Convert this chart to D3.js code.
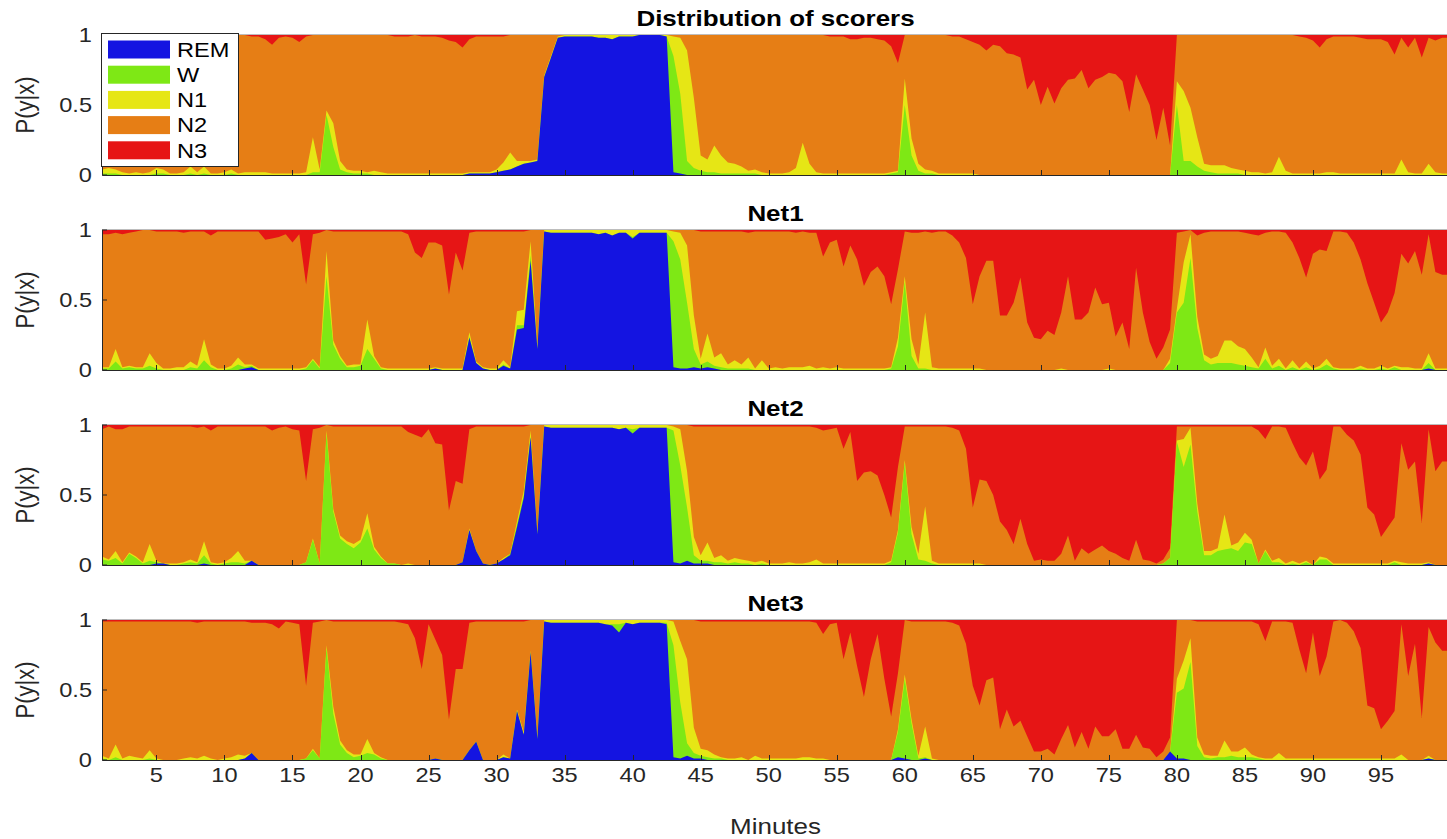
<!DOCTYPE html>
<html>
<head>
<meta charset="utf-8">
<script src="https://cdn.jsdelivr.net/npm/d3@7"></script>
<style>
  body { margin: 0; background: #fff; }
  svg { display: block; }
</style>
</head>
<body>
<script>
// epochs of 30 s, in minutes (1 .. 100)
const minutes = d3.range(2, 201).map(k => k / 2);

const stages = ["REM", "W", "N1", "N2", "N3"];
const stageColors = ["#1414e1", "#7ee815", "#e6e615", "#e67e15", "#e61515"];
const xTicks = [5, 10, 15, 20, 25, 30, 35, 40, 45, 50, 55, 60, 65, 70, 75, 80, 85, 90, 95];
const yTicks = [0, 50, 100];

// probabilities in percent, one value per epoch
const scorersREM = [
  0,0,0,0,0,0,0,0,0,0, 0,0,0,0,0,0,0,0,0,0, 0,0,0,0,0,0,0,0,0,0, 0,0,0,0,0,0,0,0,0,0,
  0,0,0,0,0,0,0,0,0,0, 0,0,0,0,1,1,1,1,2,3, 4,6,8,9,10,70,84,98,99,99, 99,99,99,98,98,97,99,99,99,100,
  100,100,100,99,2,1,0,0,0,0, 0,0,0,0,0,0,0,0,0,0, 0,0,0,0,0,0,0,0,0,0, 0,0,0,0,0,0,0,0,0,0,
  0,0,0,0,0,0,0,0,0,0, 0,0,0,0,0,0,0,0,0,0, 0,0,0,0,0,0,0,0,0,0, 0,0,0,0,0,0,0,0,0,0,
  0,0,0,0,0,0,0,0,0,0, 0,0,0,0,0,0,0,0,0,0, 0,0,0,0,0,0,0,0,0,0, 0,0,0,0,0,0,0,0,0
];
const scorersW = [
  1,1,1,0,0,0,0,0,1,1, 0,0,0,1,0,1,0,0,0,1, 0,0,0,0,0,0,0,0,0,0, 0,2,2,43,20,4,2,1,1,1,
  0,0,0,0,0,0,0,0,0,0, 0,0,0,0,0,0,0,0,0,0, 0,0,0,0,0,0,0,0,0,0, 0,0,0,0,0,0,0,0,0,0,
  0,0,0,0,83,57,10,5,3,2, 2,1,1,1,1,1,1,0,0,0, 0,0,0,0,0,0,0,0,0,0, 0,0,0,0,0,0,1,2,50,14,
  3,1,1,0,0,0,0,0,0,0, 0,0,0,0,0,0,0,0,0,0, 0,0,0,0,0,0,0,0,0,0, 0,0,0,0,0,0,0,0,50,10,
  10,6,3,2,1,1,1,1,0,0, 0,0,0,0,0,0,0,0,0,0, 0,0,0,0,0,0,0,0,0,0, 0,0,0,0,0,0,0,0,0
];
const scorersN1 = [
  3,4,3,2,1,2,1,2,4,3, 1,1,2,5,2,5,1,1,2,3, 1,2,2,2,2,1,1,1,1,1, 2,25,2,3,17,6,2,2,2,1,
  3,2,1,1,1,1,1,1,1,1, 1,1,1,1,1,1,1,1,2,6, 12,4,2,1,1,1,1,1,1,1, 1,1,1,2,2,3,1,1,1,0,
  0,0,0,1,14,40,79,50,11,9, 19,13,8,7,5,2,3,2,1,1, 1,2,5,23,8,2,1,1,1,1, 1,1,1,1,1,1,1,1,19,12,
  5,3,2,1,1,1,1,1,1,0, 0,0,0,0,0,0,0,0,0,0, 0,0,0,0,0,0,0,0,0,0, 0,0,0,0,0,0,0,0,17,50,
  38,21,5,5,6,6,4,3,3,2, 2,1,2,13,3,1,1,1,1,1, 2,2,1,1,1,1,1,1,1,1, 1,11,2,1,1,8,2,1,1
];
const scorersN2 = [
  95,94,96,98,99,97,98,98,95,96, 99,99,98,94,98,93,98,99,98,96, 99,98,97,97,95,92,97,98,97,94, 97,73,96,54,63,90,96,97,97,98,
  97,98,99,98,98,98,99,98,98,98, 97,95,94,90,95,97,97,97,95,90, 84,90,90,90,89,29,15,1,0,0, 0,0,0,0,0,0,0,0,0,0,
  0,0,0,0,1,2,11,45,86,89, 79,86,91,92,94,97,96,98,99,99, 99,98,95,77,92,98,99,98,98,98, 96,96,97,97,96,95,90,77,31,74,
  92,96,97,99,99,98,98,96,94,93, 89,93,92,87,86,84,61,68,50,63, 51,62,68,69,75,62,68,70,73,72, 67,45,72,61,50,25,48,21,33,40,
  52,73,92,93,93,93,95,96,97,98, 98,99,98,87,97,99,98,97,95,90, 95,97,98,98,98,97,96,96,96,94, 85,87,89,97,83,90,94,97,97
];
const scorersN3 = [
  1,1,0,0,0,1,1,0,0,0, 0,0,0,0,0,1,1,0,0,0, 0,0,1,1,3,7,2,1,2,5, 1,0,0,0,0,0,0,0,0,0,
  0,0,0,1,1,1,0,1,1,1, 2,4,5,9,3,1,1,1,1,1, 0,0,0,0,0,0,0,0,0,0, 0,0,0,0,0,0,0,0,0,0,
  0,0,0,0,0,0,0,0,0,0, 0,0,0,0,0,0,0,0,0,0, 0,0,0,0,0,0,0,1,1,1, 3,3,2,2,3,4,8,20,0,0,
  0,0,0,0,0,1,1,3,5,7, 11,7,8,13,14,16,39,32,50,37, 49,38,32,31,25,38,32,30,27,28, 33,55,28,39,50,75,52,79,0,0,
  0,0,0,0,0,0,0,0,0,0, 0,0,0,0,0,0,1,2,4,9, 3,1,1,1,1,2,3,3,3,5, 14,2,9,2,16,2,4,2,2
];

const net1REM = [
  0,0,0,0,0,0,0,0,0,0, 0,0,0,0,0,0,0,0,0,0, 0,1,2,0,0,0,0,0,0,0, 0,0,0,0,0,0,0,0,0,0,
  0,0,0,0,0,0,0,0,0,1, 0,0,0,0,23,5,1,0,0,3, 1,29,30,78,15,99,98,98,98,98, 98,98,98,97,98,96,98,98,94,98,
  98,98,98,98,2,1,1,2,1,2, 1,0,0,0,0,0,0,0,0,0, 0,0,0,0,0,0,0,0,0,0, 0,0,0,0,0,0,0,0,0,0,
  0,0,0,0,0,0,0,0,0,0, 0,0,0,0,0,0,0,0,0,0, 0,0,0,0,0,0,0,0,0,0, 0,0,0,0,0,0,0,0,0,0,
  0,0,0,0,0,0,0,0,0,0, 0,0,0,0,0,0,0,0,0,0, 0,0,0,0,0,0,0,0,0,0, 0,0,0,0,0,1,0,0,0
];
const net1W = [
  1,1,6,1,2,1,1,3,1,0, 0,0,0,2,1,7,2,0,0,1, 4,1,1,0,0,0,0,0,0,0, 1,7,1,67,18,8,2,2,3,15,
  8,1,0,0,0,0,0,0,0,0, 0,0,0,0,1,0,0,0,0,1, 0,3,2,4,0,0,0,0,0,0, 0,0,0,0,0,0,0,0,1,0,
  0,0,0,0,90,78,47,13,3,4, 2,2,1,1,1,1,0,0,0,0, 0,0,0,0,0,0,0,0,0,0, 0,0,0,0,0,0,1,17,63,10,
  1,1,0,0,0,0,0,0,0,0, 0,0,0,0,0,0,0,0,0,0, 0,0,0,0,0,0,0,0,0,0, 0,0,0,0,0,0,0,5,41,48,
  80,30,7,4,5,5,5,4,3,2, 1,8,1,3,0,2,0,2,0,1, 4,1,0,0,0,1,0,0,1,0, 2,0,0,0,0,4,0,0,0
];
const net1N1 = [
  1,1,9,1,1,1,1,9,4,1, 1,2,2,4,2,15,2,1,1,2, 5,2,1,1,1,1,1,1,1,1, 1,1,1,18,3,2,1,2,1,21,
  2,1,1,1,1,1,1,1,1,1, 1,1,1,1,3,1,1,1,1,3, 1,10,11,10,2,1,2,2,2,2, 2,2,2,3,2,4,2,2,5,2,
  2,2,2,2,7,19,41,24,4,20, 6,10,3,6,3,8,1,7,1,2, 1,2,2,2,3,1,2,1,2,1, 1,1,1,1,1,1,1,6,4,12,
  3,40,2,1,1,1,1,1,1,1, 0,0,0,0,0,0,0,0,0,0, 0,1,0,0,0,0,0,0,1,0, 0,0,0,0,0,0,0,3,3,29,
  17,8,4,4,5,16,16,13,12,7, 1,8,2,5,1,5,1,4,1,2, 4,1,1,1,1,2,1,1,2,1, 1,2,2,1,1,7,1,1,1
];
const net1N2 = [
  95,95,83,95,95,97,98,88,94,98, 98,97,96,93,96,77,92,98,98,96, 90,95,95,98,92,93,94,96,90,96, 59,89,96,15,78,89,96,95,95,63,
  89,97,98,98,98,96,83,79,90,89, 88,53,83,70,71,93,97,98,98,92, 97,57,56,8,83,0,0,0,0,0, 0,0,0,0,0,0,0,0,0,0,
  0,0,0,0,1,2,11,61,91,73, 90,87,95,92,95,89,98,92,98,97, 98,97,96,97,95,97,79,90,91,73, 88,78,59,69,73,66,45,49,32,76,
  94,58,96,98,98,95,90,79,46,66, 78,78,39,39,48,66,34,23,22,28, 25,40,67,36,36,41,59,47,47,24, 34,15,73,41,20,8,16,21,54,22,
  3,58,87,91,89,78,78,82,83,88, 94,82,96,91,97,84,79,60,82,83, 77,97,98,97,90,76,61,47,31,40, 52,81,74,84,67,85,69,67,67
];
const net1N3 = [
  3,3,2,3,2,1,0,0,1,1, 1,1,2,1,1,1,4,1,1,1, 1,1,1,1,7,6,5,3,9,3, 39,3,2,0,1,1,1,1,1,1,
  1,1,1,1,1,3,16,20,9,9, 11,46,16,29,2,1,1,1,1,1, 1,1,1,0,0,0,0,0,0,0, 0,0,0,0,0,0,0,0,0,0,
  0,0,0,0,0,0,0,0,1,1, 1,1,1,1,1,2,1,1,1,1, 1,1,2,1,2,2,19,9,7,26, 11,21,40,30,26,33,53,28,1,2,
  2,1,2,1,1,4,9,20,53,33, 22,22,61,61,52,34,66,77,78,72, 75,59,33,64,64,59,41,53,52,76, 66,85,27,59,80,92,84,71,2,1,
  0,4,2,1,1,1,1,1,2,3, 4,2,1,1,2,9,20,34,17,14, 15,1,1,2,9,21,38,52,66,59, 45,17,24,15,32,3,30,32,32
];

const net2REM = [
  0,0,0,0,0,0,0,0,1,1, 0,0,0,0,0,1,0,0,0,0, 0,0,3,0,0,0,0,0,0,0, 0,0,0,0,0,0,0,0,0,0,
  0,0,0,0,0,0,0,0,0,0, 0,0,0,2,25,10,1,0,1,4, 7,27,48,91,22,99,98,98,98,98, 98,98,98,98,98,98,97,98,94,98,
  98,98,98,98,2,1,3,1,1,1, 0,0,0,0,0,0,0,0,0,0, 0,0,0,0,0,0,0,0,0,0, 0,0,0,0,0,0,0,0,0,0,
  0,0,0,0,0,0,0,0,0,0, 0,0,0,0,0,0,0,0,0,0, 0,0,0,0,0,0,0,0,0,0, 0,0,0,0,0,0,0,0,0,0,
  0,0,0,0,0,0,0,0,0,0, 0,0,0,0,0,0,0,0,0,0, 0,0,0,0,0,0,0,0,0,0, 0,0,0,0,0,1,0,0,0
];
const net2W = [
  4,3,5,1,8,5,1,3,1,0, 0,0,1,2,1,6,1,0,1,2, 2,1,0,0,0,0,0,0,0,0, 2,18,1,94,38,19,15,12,16,26,
  11,5,1,1,0,0,0,0,0,0, 0,0,0,0,0,0,0,0,0,0, 1,2,2,1,0,0,0,0,0,0, 0,0,0,0,0,0,0,0,3,0,
  0,0,0,0,94,70,38,6,2,2, 2,2,1,2,1,1,0,1,0,0, 0,0,0,0,0,0,0,0,0,0, 0,0,0,0,0,0,2,23,73,22,
  4,3,1,0,0,0,0,0,0,0, 0,0,0,0,0,0,0,0,0,0, 0,0,0,0,0,0,0,0,0,0, 0,0,0,0,0,0,1,5,88,70,
  86,38,7,7,10,11,12,10,16,15, 1,10,2,2,0,1,0,2,0,4, 4,0,0,0,0,0,0,0,0,0, 2,0,0,0,0,0,0,0,0
];
const net2N1 = [
  2,1,5,1,1,1,1,12,1,0, 1,1,1,2,1,10,1,1,1,3, 8,2,0,0,0,0,0,0,0,0, 0,1,0,2,2,2,2,3,2,11,
  2,1,0,0,0,1,0,0,0,0, 0,0,0,0,1,0,0,0,0,1, 0,2,3,4,1,1,2,2,2,2, 2,2,2,2,2,2,3,2,3,2,
  2,2,2,2,3,26,26,13,4,13, 3,5,2,3,3,2,2,2,1,1, 1,2,1,1,2,4,1,1,1,1, 1,1,1,1,1,1,1,2,2,5,
  4,39,2,1,1,1,1,1,1,1, 0,0,0,0,0,0,0,0,0,0, 0,0,0,0,0,0,0,0,0,0, 0,0,0,0,0,0,0,0,1,20,
  12,6,3,3,2,25,2,6,7,3, 0,1,1,3,1,2,1,1,0,2, 1,1,1,1,1,1,1,1,1,1, 1,2,1,1,1,1,0,0,0
];
const net2N2 = [
  91,95,87,95,90,93,97,84,96,98, 98,98,97,95,96,82,94,98,97,94, 89,96,96,99,99,96,98,99,97,96, 58,78,97,4,59,78,82,84,81,62,
  86,93,98,98,99,94,93,91,97,87, 86,39,60,56,71,89,98,99,98,94, 91,68,46,4,77,0,0,0,0,0, 0,0,0,0,0,0,0,0,0,0,
  0,0,0,0,1,3,33,79,92,83, 94,92,96,94,95,96,97,96,98,98, 98,97,98,98,97,94,95,96,97,82, 94,59,65,66,63,49,31,45,24,72,
  91,57,96,98,98,97,95,82,40,60, 60,50,31,25,15,33,15,3,4,3, 3,8,21,3,12,8,11,14,10,8, 5,3,18,4,3,1,3,7,10,9,
  1,55,89,89,87,63,85,83,76,81, 95,79,96,94,97,84,76,68,81,55, 63,98,98,92,88,78,40,35,19,26, 31,85,67,73,29,95,67,74,74
];
const net2N3 = [
  3,1,3,3,1,1,1,1,1,1, 1,1,1,1,2,1,4,1,1,1, 1,1,1,1,1,4,2,1,3,4, 40,3,2,0,1,1,1,1,1,1,
  1,1,1,1,1,5,7,9,3,13, 14,61,40,42,3,1,1,1,1,1, 1,1,1,0,0,0,0,0,0,0, 0,0,0,0,0,0,0,0,0,0,
  0,0,0,0,0,0,0,1,1,1, 1,1,1,1,1,1,1,1,1,1, 1,1,1,1,1,2,4,3,2,17, 5,40,34,33,36,50,66,30,1,1,
  1,1,1,1,1,2,4,17,59,39, 40,50,69,75,85,67,85,97,96,97, 97,92,79,97,88,92,89,86,90,92, 95,97,82,96,97,99,96,88,1,1,
  1,1,1,1,1,1,1,1,1,1, 4,10,1,1,2,13,23,29,19,39, 32,1,1,7,11,21,59,64,80,73, 66,13,32,26,70,3,33,26,26
];

const net3REM = [
  0,0,0,0,0,0,0,0,0,0, 0,0,0,0,0,0,0,0,0,0, 0,1,5,0,0,0,0,0,0,0, 0,0,0,0,0,0,0,0,0,0,
  0,0,0,0,0,0,0,0,0,1, 0,0,0,0,7,13,0,0,0,2, 1,35,18,77,15,99,98,98,98,98, 98,98,98,98,97,96,91,98,97,98,
  98,98,98,97,2,1,3,1,1,0, 0,0,0,0,0,0,0,0,0,0, 0,0,0,0,0,0,0,0,0,0, 0,0,0,0,0,0,0,2,1,0,
  0,1,0,0,0,0,0,0,0,0, 0,0,0,0,0,0,0,0,0,0, 0,0,0,0,0,0,0,0,0,0, 0,0,0,0,0,0,0,6,1,1,
  0,0,0,0,0,0,0,0,0,0, 0,0,0,0,0,0,0,0,0,0, 0,0,0,0,0,0,0,0,0,0, 0,0,0,0,0,1,0,0,0
];
const net3W = [
  1,0,2,0,0,0,0,1,0,0, 0,0,0,0,0,0,0,0,0,0, 0,0,0,0,0,0,0,0,0,0, 1,7,1,80,33,11,5,2,3,5,
  4,1,0,0,0,0,0,0,0,0, 0,0,0,0,0,0,0,0,0,0, 0,0,0,0,0,0,0,0,0,0, 0,0,0,0,0,1,6,0,0,0,
  0,0,0,1,80,40,9,4,2,2, 1,1,0,0,0,0,0,0,0,0, 0,0,0,0,0,0,0,0,0,0, 0,0,0,0,0,0,0,18,57,26,
  1,1,0,0,0,0,0,0,0,0, 0,0,0,0,0,0,0,0,0,0, 0,0,0,0,0,0,0,0,0,0, 0,0,0,0,0,0,0,0,47,50,
  70,10,2,1,2,2,3,2,2,2, 1,0,0,0,0,0,0,0,0,0, 0,0,0,0,0,0,0,0,0,0, 0,0,0,0,0,0,0,0,0
];
const net3N1 = [
  2,1,9,1,3,2,1,6,1,0, 0,0,1,2,1,3,1,0,1,2, 4,2,0,0,0,0,0,0,0,0, 0,1,0,2,5,3,2,2,1,10,
  1,1,0,0,0,0,0,0,0,0, 0,0,0,0,0,0,0,0,0,2, 0,1,2,1,1,1,2,2,2,2, 2,2,2,2,3,3,3,2,3,2,
  2,2,2,2,17,44,60,18,5,5, 3,1,1,1,2,0,3,1,1,1, 1,1,1,2,2,1,1,0,0,0, 0,0,0,0,0,0,0,2,3,3,
  2,22,1,0,0,0,0,0,0,0, 0,0,0,0,0,0,0,0,0,0, 0,0,0,0,0,0,0,0,0,0, 0,0,0,0,0,0,0,0,10,20,
  17,6,2,2,1,12,3,4,7,2, 1,1,1,5,1,1,1,1,1,1, 1,1,1,1,1,1,1,1,1,1, 1,4,0,0,0,2,0,0,0
];
const net3N2 = [
  96,98,88,98,96,97,98,92,98,99, 99,99,98,97,97,96,98,99,98,97, 95,96,93,98,98,97,94,99,98,97, 52,90,98,18,61,85,92,95,95,84,
  94,97,99,99,98,97,87,65,97,85, 75,29,65,65,91,86,99,99,99,95, 98,63,79,22,84,0,0,0,0,0, 0,0,0,0,0,0,0,0,0,0,
  0,0,0,0,1,15,28,77,91,92, 95,97,98,98,97,99,96,98,98,98, 98,98,98,97,97,97,89,97,98,72, 91,67,45,72,90,58,31,40,39,70,
  96,75,98,99,99,98,96,83,53,39, 57,59,22,36,24,28,17,6,6,8, 4,15,25,9,20,8,24,17,17,22, 8,8,18,9,8,2,6,10,42,29,
  13,83,95,96,96,85,93,93,90,95, 95,84,98,94,98,97,78,61,90,59, 73,98,99,97,91,79,38,36,21,27, 34,93,60,83,30,92,84,78,78
];
const net3N3 = [
  1,1,1,1,1,1,1,1,1,1, 1,1,1,1,2,1,1,1,1,1, 1,1,2,2,2,3,6,1,2,3, 47,2,1,0,1,1,1,1,1,1,
  1,1,1,1,2,3,13,35,3,14, 25,71,35,35,2,1,1,1,1,1, 1,1,1,0,0,0,0,0,0,0, 0,0,0,0,0,0,0,0,0,0,
  0,0,0,0,0,0,0,0,1,1, 1,1,1,1,1,1,1,1,1,1, 1,1,1,1,1,2,10,3,2,28, 9,33,55,28,10,42,69,38,0,1,
  1,1,1,1,1,2,4,17,47,61, 43,41,78,64,76,72,83,94,94,92, 96,85,75,91,80,92,76,83,83,78, 92,92,82,91,92,98,94,84,0,0,
  0,1,1,1,1,1,1,1,1,1, 3,15,1,1,1,2,21,38,9,40, 26,1,0,2,8,20,61,63,78,72, 65,3,40,17,70,5,16,22,22
];

const panels = [
  { title: "Distribution of scorers", series: [scorersREM, scorersW, scorersN1, scorersN2, scorersN3] },
  { title: "Net1", series: [net1REM, net1W, net1N1, net1N2, net1N3] },
  { title: "Net2", series: [net2REM, net2W, net2N1, net2N2, net2N3] },
  { title: "Net3", series: [net3REM, net3W, net3N1, net3N2, net3N3] }
];

const width = 1447;
const height = 839;
const plotLeft = 102;
const plotRight = 1449;
const panelTop = 35;
const panelHeight = 140;
const panelStep = 195;
const font = "'Liberation Sans', Arial, Helvetica, sans-serif";
const ink = "#262626";
const stretch = 1.18; // the saved figure is wider than its fonts

const svg = d3.select("body").append("svg")
  .attr("width", width)
  .attr("height", height)
  .style("font-family", font);

const x = d3.scaleLinear().domain([1, 100]).range([plotLeft, plotRight]);

function label(parent, px, py, str, opts = {}) {
  const t = parent.append("text")
    .attr("transform", `translate(${px},${py}) scale(${stretch},1)${opts.rotate ? " rotate(-90)" : ""}`)
    .attr("text-anchor", opts.anchor || "middle")
    .attr("font-size", opts.size || 20)
    .attr("font-weight", opts.weight || "normal")
    .attr("fill", opts.color || ink)
    .text(str);
  if (opts.dy) t.attr("dy", opts.dy);
  return t;
}

panels.forEach((panel, index) => {
  const top = panelTop + index * panelStep;
  const bottom = top + panelHeight;
  const y = d3.scaleLinear().domain([0, 100]).range([bottom, top]);

  const rows = minutes.map((t, j) => {
    const row = { t };
    stages.forEach((stage, k) => { row[stage] = panel.series[k][j]; });
    return row;
  });
  const layers = d3.stack().keys(stages)(rows);

  // each layer is filled from the baseline so adjacent areas have no seams
  const area = d3.area()
    .x(d => x(d.data.t))
    .y0(y(0))
    .y1(d => y(d[1]));

  const g = svg.append("g");
  g.selectAll("path.layer")
    .data(layers.slice().reverse())
    .join("path")
    .attr("class", "layer")
    .attr("d", area)
    .attr("fill", d => stageColors[d.index]);

  // box
  g.append("path")
    .attr("d", `M${plotLeft + 0.5},${top} V${bottom + 0.5} H${width}`)
    .attr("fill", "none")
    .attr("stroke", ink)
    .attr("stroke-width", 1);
  g.append("line")
    .attr("x1", plotLeft).attr("x2", width)
    .attr("y1", top - 0.5).attr("y2", top - 0.5)
    .attr("stroke", "#bdbdbd")
    .attr("stroke-width", 1);

  // ticks
  g.selectAll("line.xtick")
    .data(xTicks)
    .join("line")
    .attr("class", "xtick")
    .attr("x1", d => Math.round(x(d)) + 0.5)
    .attr("x2", d => Math.round(x(d)) + 0.5)
    .attr("y1", bottom)
    .attr("y2", bottom - 5)
    .attr("stroke", ink);
  g.selectAll("line.ytick")
    .data(yTicks)
    .join("line")
    .attr("class", "ytick")
    .attr("x1", plotLeft)
    .attr("x2", plotLeft + 5)
    .attr("y1", d => y(d))
    .attr("y2", d => y(d))
    .attr("stroke", ink);

  yTicks.forEach(v => {
    label(g, plotLeft - 10, y(v), d3.format("~g")(v / 100), { anchor: "end", size: 20, dy: "0.35em" });
  });

  label(g, 34, top + panelHeight / 2, "P(y|x)", { size: 22, rotate: true });

  label(g, (plotLeft + plotRight) / 2, top - 9, panel.title, { size: 22, weight: "bold", color: "#000" });

  if (index === panels.length - 1) {
    xTicks.forEach(v => {
      label(g, x(v), bottom + 22, String(v), { size: 20 });
    });
    label(g, (plotLeft + plotRight) / 2, bottom + 74, "Minutes", { size: 22 });
  }
});

// legend
const legend = svg.append("g");
legend.append("rect")
  .attr("x", 101.5).attr("y", 33.5)
  .attr("width", 137).attr("height", 133)
  .attr("fill", "#fff")
  .attr("stroke", ink);
stages.forEach((stage, k) => {
  const ry = 40.5 + k * 25.2;
  legend.append("rect")
    .attr("x", 108).attr("y", ry)
    .attr("width", 62).attr("height", 18)
    .attr("fill", stageColors[k]);
  label(legend, 177, ry + 9, stage, { anchor: "start", size: 20, dy: "0.36em", color: "#000" });
});
</script>
</body>
</html>
